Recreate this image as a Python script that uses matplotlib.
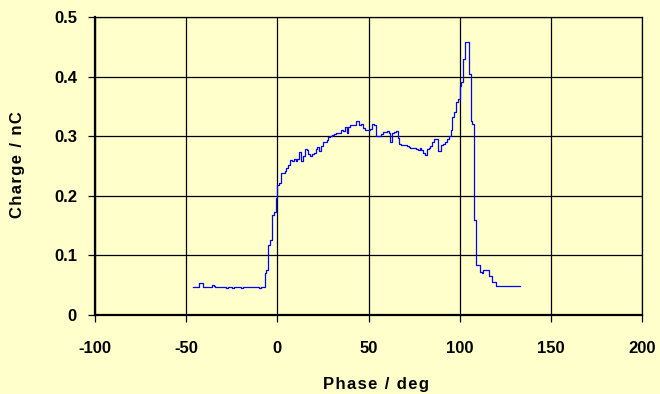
import matplotlib
matplotlib.use("Agg")
import matplotlib.pyplot as plt
import numpy as np

# Phase bins (deg, left edge of each 1-degree bin) and measured charge (nC)
phase = np.arange(-46, 134)

charge_head = [
    0.047, 0.047, 0.047, 0.053, 0.053, 0.047, 0.047, 0.047, 0.047, 0.047,   # -46 .. -37
    0.050, 0.048, 0.047, 0.047, 0.047, 0.047, 0.047, 0.047, 0.045, 0.047,   # -36 .. -27
    0.047, 0.045, 0.047, 0.047, 0.047, 0.047, 0.045, 0.047, 0.047, 0.047,   # -26 .. -17
    0.047, 0.047, 0.047, 0.047, 0.047, 0.047, 0.045, 0.047, 0.047,          # -16 .. -8
]
charge_rise = [
    0.070, 0.075, 0.117, 0.126, 0.168, 0.172, 0.196,                        # -7 .. -1
]
charge_plateau = [
    0.218, 0.221, 0.238, 0.238, 0.242, 0.246, 0.252, 0.260, 0.258, 0.262,   # 0 .. 9
    0.258, 0.262, 0.274, 0.258, 0.266, 0.278, 0.277, 0.270, 0.266, 0.270,   # 10 .. 19
    0.272, 0.279, 0.282, 0.276, 0.284, 0.290, 0.290, 0.294, 0.298, 0.300,   # 20 .. 29
    0.302, 0.303, 0.305, 0.306, 0.306, 0.310, 0.308, 0.316, 0.305, 0.316,   # 30 .. 39
    0.319, 0.318, 0.318, 0.326, 0.326, 0.319, 0.320, 0.314, 0.310, 0.310,   # 40 .. 49
    0.310, 0.312, 0.320, 0.318, 0.300, 0.300, 0.300, 0.303, 0.307, 0.307,   # 50 .. 59
    0.308, 0.305, 0.290, 0.305, 0.307, 0.308, 0.297, 0.287, 0.285, 0.285,   # 60 .. 69
    0.285, 0.284, 0.282, 0.280, 0.280, 0.280, 0.278, 0.277, 0.280, 0.277,   # 70 .. 79
    0.272, 0.268, 0.278, 0.280, 0.283, 0.290, 0.295, 0.295, 0.276, 0.275,   # 80 .. 89
    0.285, 0.287, 0.290, 0.296, 0.300, 0.310,                               # 90 .. 95
]
charge_peak = [
    0.333, 0.340, 0.358, 0.362, 0.384, 0.391, 0.430, 0.458, 0.458, 0.405,   # 96 .. 105
    0.325, 0.320, 0.160, 0.084, 0.084, 0.072, 0.070, 0.076, 0.076, 0.076,   # 106 .. 115
    0.065, 0.065, 0.056, 0.056, 0.048, 0.048, 0.048, 0.048, 0.048, 0.048,   # 116 .. 125
    0.048, 0.048, 0.048, 0.048, 0.048, 0.048, 0.048, 0.048,                 # 126 .. 133
]
charge = np.array(charge_head + charge_rise + charge_plateau + charge_peak)

x_ticks = [-100, -50, 0, 50, 100, 150, 200]
y_ticks = [0, 0.1, 0.2, 0.3, 0.4, 0.5]
y_tick_labels = ["0", "0.1", "0.2", "0.3", "0.4", "0.5"]
x_title = "Phase / deg"
y_title = "Charge / nC"

bg = "#FFFFCC"
plt.rcParams["font.family"] = ["Liberation Sans", "DejaVu Sans"]
plt.rcParams["axes.unicode_minus"] = False


def spaced(text, gap="\u200a"):
    """Open up the letter spacing of an axis title."""
    return gap.join(text)


fig = plt.figure(figsize=(6.6, 3.94), dpi=100, facecolor=bg)
ax = fig.add_axes([95 / 660, 1 - 315 / 394, (642 - 95) / 660, (315 - 17) / 394])
ax.set_facecolor(bg)

ax.step(phase, charge, where="post", color="#0000FF", linewidth=0.9)

ax.set_xlim(-100, 200)
ax.set_ylim(0, 0.5)
ax.set_xticks(x_ticks)
ax.set_yticks(y_ticks)
ax.set_yticklabels(y_tick_labels)
ax.grid(True, color="black", linewidth=0.9)
ax.set_axisbelow(True)

for side in ["top", "right"]:
    ax.spines[side].set_linewidth(0.9)
for side in ["left", "bottom"]:
    ax.spines[side].set_linewidth(1.6)

ax.tick_params(axis="both", direction="out", length=5, width=0.9, labelsize=12)
ax.tick_params(axis="x", pad=14)
ax.tick_params(axis="y", pad=8)
for lab in ax.get_xticklabels() + ax.get_yticklabels():
    lab.set_fontweight("bold")

ax.set_xlabel(spaced(x_title), fontsize=12, fontweight="bold")
ax.set_ylabel(spaced(y_title), fontsize=12, fontweight="bold")
ax.xaxis.set_label_coords((376 - 95) / 547, -(384 - 315) / 298)
ax.yaxis.set_label_coords(-(95 - 17) / 547, (315 - 165) / 298)
ax.xaxis.label.set_va("center")
ax.yaxis.label.set_va("center")

fig.savefig("out.png", dpi=100, facecolor=bg)
